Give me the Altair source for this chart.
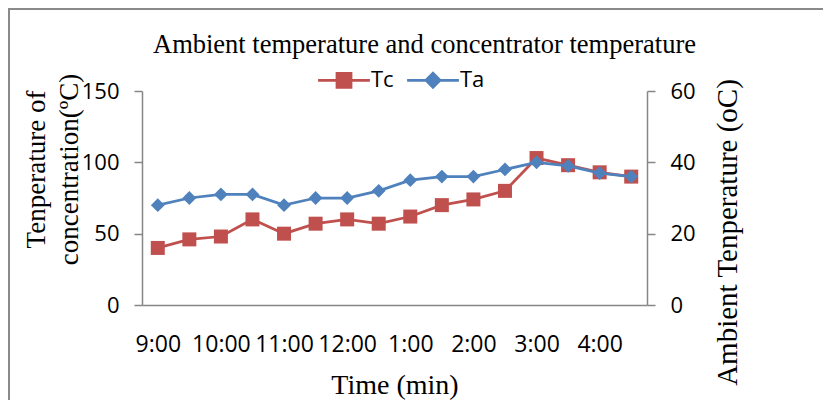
import altair as alt
import pandas as pd

# ---- data ----
times = ["9:00", "9:30", "10:00", "10:30", "11:00", "11:30", "12:00", "12:30",
         "1:00", "1:30", "2:00", "2:30", "3:00", "3:30", "4:00", "4:30"]
tc_values = [40, 46, 48, 60, 50, 57, 60, 57, 62, 70, 74, 80, 103, 98, 93, 90]
ta_values = [28, 30, 31, 31, 28, 30, 30, 32, 35, 36, 36, 38, 40, 39, 37, 36]
series = ["Tc", "Ta"]
left_ticks = [0, 50, 100, 150]
right_ticks = [0, 20, 40, 60]

RED = "#C0504D"
BLUE = "#4F81BD"
GRAY = "#868686"
SANS = "Open Sans"
SERIF = "Liberation Serif"

df = pd.DataFrame({"time": times, "Tc": tc_values, "Ta": ta_values})
long_df = df.melt("time", var_name="series", value_name="value")

x_enc = alt.X(
    "time:N", sort=times,
    scale=alt.Scale(type="point", padding=0.5),
    axis=alt.Axis(
        values=times[::2], labelAngle=0, ticks=False, grid=False,
        domainColor=GRAY, domainWidth=1.5,
        labelFont=SANS, labelFontSize=23, labelColor="black", labelPadding=28,
        labelOverlap=False,
        title="Time (min)", titleFont=SERIF, titleFontSize=28,
        titleFontWeight="normal", titleColor="black",
        titleX=252.5, titleY=88, titleBaseline="alphabetic", titleAlign="center",
    ),
)

axis_common = dict(
    grid=False, tickSize=8, tickColor=GRAY, tickWidth=1.5,
    domainColor=GRAY, domainWidth=1.5,
    labelFont=SANS, labelFontSize=22, labelColor="black", labelPadding=15,
    titleFont=SERIF, titleFontWeight="normal", titleColor="black",
    titleAngle=270, titleAlign="center", titleBaseline="middle",
)

y_left = alt.Y(
    "Tc:Q", scale=alt.Scale(domain=[0, 150]),
    axis=alt.Axis(
        orient="left", values=left_ticks,
        title=["Tenperature  of", "concentration(ºC)"],
        titleFontSize=27, titleLineHeight=33, titleX=-106, titleY=78,
        **axis_common,
    ),
)
y_right = alt.Y(
    "Ta:Q", scale=alt.Scale(domain=[0, 60]),
    axis=alt.Axis(
        orient="right", values=right_ticks,
        title="Ambient Tenperature (oC)",
        titleFontSize=29, titleX=80, titleY=141,
        **axis_common,
    ),
)

tc_line = alt.Chart(df).mark_line(color=RED, strokeWidth=2.75).encode(x=x_enc, y=y_left)
tc_pts = alt.Chart(df).mark_point(
    filled=True, shape="square", size=196, color=RED, opacity=1
).encode(x=x_enc, y=y_left)
tc_layer = alt.layer(tc_line, tc_pts)

ta_line = alt.Chart(df).mark_line(color=BLUE, strokeWidth=2.75).encode(x=x_enc, y=y_right)
ta_pts = alt.Chart(df).mark_point(
    filled=True, shape="diamond", size=190, color=BLUE, opacity=1
).encode(x=x_enc, y=y_right)
ta_layer = alt.layer(ta_line, ta_pts)

# legend (line + marker symbols), drawn from the series names
path_tc = "M-3.7,0H3.7M-1,-1H1V1H-1Z"
path_ta = "M-3.7,0H3.7M-1,0L0,-1L1,0L0,1Z"
leg = alt.Legend(
    title=None, orient="none", direction="horizontal",
    legendX=165, legendY=-22, padding=0,
    labelFont=SANS, labelFontSize=22, labelColor="black",
    symbolSize=196, symbolStrokeWidth=2.75,
    symbolOffset=26, labelOffset=16, columnPadding=2,
)
legend_layer = alt.Chart(long_df).mark_point(
    filled=True, clip=True, opacity=1, size=196, strokeWidth=2.75
).encode(
    x=alt.value(0), y=alt.value(-1000),
    fill=alt.Fill("series:N", scale=alt.Scale(domain=series, range=[RED, BLUE]), legend=leg),
    stroke=alt.Stroke("series:N", scale=alt.Scale(domain=series, range=[RED, BLUE]), legend=leg),
    shape=alt.Shape("series:N", scale=alt.Scale(domain=series, range=[path_tc, path_ta]), legend=leg),
)

frame_df = pd.DataFrame({"k": [0]})
border_top = alt.Chart(frame_df).mark_rule(color="#8a8a8a", strokeWidth=2).encode(
    x=alt.value(-134), x2=alt.value(681), y=alt.value(-82)
)
border_left = alt.Chart(frame_df).mark_rule(color="#8a8a8a", strokeWidth=2).encode(
    x=alt.value(-133), y=alt.value(-83), y2=alt.value(309)
)

chart = alt.layer(tc_layer, ta_layer, legend_layer, border_top, border_left).resolve_scale(
    y="independent"
).properties(
    width=505, height=214,
    autosize=alt.AutoSizeParams(type="none"),
    padding={"left": 134, "top": 83, "right": 176, "bottom": 95},
    title=alt.TitleParams(
        text="Ambient temperature and concentrator temperature",
        font=SERIF, fontSize=26.5, fontWeight="normal", color="black",
        anchor="middle", dx=30, offset=-51,
    ),
).configure_view(strokeWidth=0)

chart.save("out.html", embed_options={"renderer": "svg", "actions": False})
